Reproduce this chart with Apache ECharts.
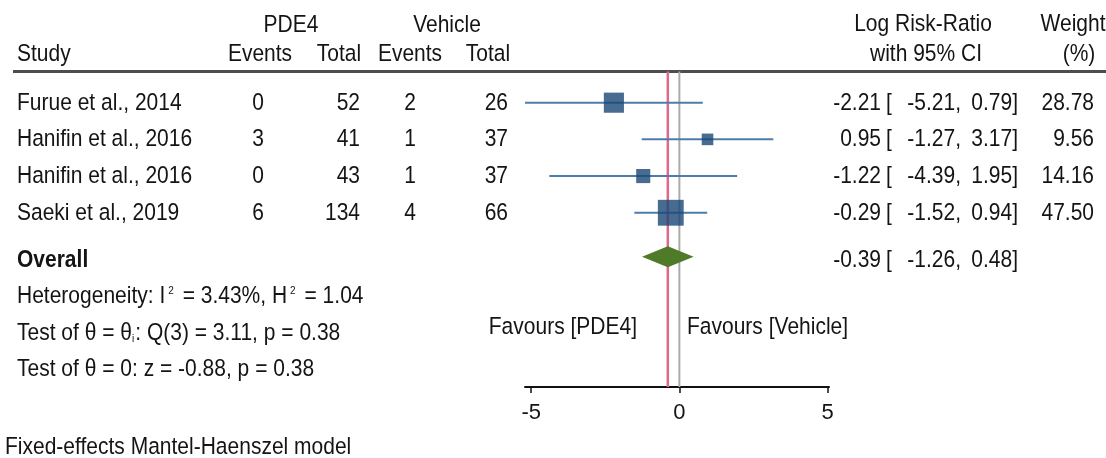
<!DOCTYPE html>
<html><head><meta charset="utf-8">
<script src="https://cdn.jsdelivr.net/npm/echarts@6/dist/echarts.min.js"></script>
<style>html,body{margin:0;padding:0;background:#fff}#c{width:1106px;height:458px}</style>
</head><body><div id="c"></div>
<script>
// ---- data ----
const studies = ['Furue et al., 2014', 'Hanifin et al., 2016', 'Hanifin et al., 2016', 'Saeki et al., 2019'];
const pdeEvents = [0, 3, 0, 6];
const pdeTotal = [52, 41, 43, 134];
const vehEvents = [2, 1, 1, 4];
const vehTotal = [26, 37, 37, 66];
const estimate = [-2.21, 0.95, -1.22, -0.29];
const ciLow = [-5.21, -1.27, -4.39, -1.52];
const ciHigh = [0.79, 3.17, 1.95, 0.94];
const weight = [28.78, 9.56, 14.16, 47.50];
const overallEst = -0.39;
const overallLow = -1.26;
const overallHigh = 0.48;
const xTicks = [-5, 0, 5];
const headerGroups = ['PDE4', 'Vehicle'];
const headerCols = ['Study', 'Events', 'Total', 'Events', 'Total'];
const statsLines = [
  'Heterogeneity: I{sup|2} = 3.43%, H{sup|2} = 1.04',
  'Test of θ = θ{sub|i}: Q(3) = 3.11, p = 0.38',
  'Test of θ = 0: z = -0.88, p = 0.38'
];
const favours = ['Favours [PDE4]', 'Favours [Vehicle]'];
const note = 'Fixed-effects Mantel-Haenszel model';

// ---- layout ----
const FONT = '"Liberation Sans", Arial, sans-serif';
const FS = 21;
const SY = 1.1;
const INK = '#141414';
const rowPos = studies.map((_, i) => i + 1);
const overallPos = 5.2;
const lineTop = 0.15, lineBottom = 8.75;

const chart = echarts.init(document.getElementById('c'), null, {renderer: 'canvas'});

const option = {
  animation: false,
  backgroundColor: '#fff',
  grid: {left: 525, right: 277, top: 66, height: 321, containLabel: false},
  xAxis: {
    type: 'value', min: -5.21, max: 5.05, position: 'bottom',
    axisLine: {show: true, onZero: false, lineStyle: {color: '#111', width: 2}},
    axisTick: {show: true, customValues: xTicks, length: 6, lineStyle: {color: '#111', width: 1.5}},
    axisLabel: {customValues: xTicks, fontSize: 22, color: INK, margin: 15, fontFamily: FONT},
    splitLine: {show: false}
  },
  yAxis: {type: 'value', inverse: true, min: 0, max: lineBottom, show: false},
  series: [
    { // reference lines (overall estimate and no effect)
      type: 'custom', z: 1, silent: true,
      data: [[overallEst], [0]],
      renderItem: function (params, api) {
        const a = api.coord([api.value(0), lineTop]);
        const b = api.coord([api.value(0), lineBottom]);
        const isOverall = params.dataIndex === 0;
        return {type: 'line', shape: {x1: a[0], y1: a[1], x2: b[0], y2: b[1]},
          style: {stroke: isOverall ? '#e0698b' : '#ababab', lineWidth: isOverall ? 2.5 : 2}};
      }
    },
    { // confidence intervals
      type: 'custom', z: 2, silent: true,
      data: studies.map((_, i) => [ciLow[i], ciHigh[i], rowPos[i]]),
      renderItem: function (params, api) {
        const a = api.coord([api.value(0), api.value(2)]);
        const b = api.coord([api.value(1), api.value(2)]);
        return {type: 'line', shape: {x1: a[0], y1: a[1], x2: b[0], y2: b[1]},
          style: {stroke: '#4f7dab', lineWidth: 2}};
      }
    },
    { // study estimates
      type: 'scatter', z: 3, silent: true, symbol: 'rect',
      symbolSize: function (val) { return 3.75 * Math.sqrt(val[2]); },
      itemStyle: {color: '#1a4676'},
      data: studies.map((_, i) => [estimate[i], rowPos[i], weight[i]])
    },
    { // overall diamond
      type: 'custom', z: 4, silent: true,
      data: [[overallLow, overallEst, overallHigh, overallPos]],
      renderItem: function (params, api) {
        const l = api.coord([api.value(0), api.value(3)]);
        const c = api.coord([api.value(1), api.value(3)]);
        const r = api.coord([api.value(2), api.value(3)]);
        const h = 10.5;
        return {type: 'polygon', shape: {points: [[l[0], l[1]], [c[0], c[1] - h], [r[0], r[1]], [c[0], c[1] + h]]},
          style: {fill: '#4f7a28'}};
      }
    }
  ]
};
chart.setOption(option);

function py(p) { return chart.convertToPixel({gridIndex: 0}, [0, p])[1]; }
function txt(text, x, y, align, extra) {
  return {type: 'text', x: x, y: y, scaleY: SY, silent: true, z: 10,
    style: Object.assign({text: String(text), font: FS + 'px ' + FONT, fill: INK, align: align, verticalAlign: 'middle'}, extra || {})};
}
const f2 = v => v.toFixed(2);

const g = [];
// headers
g.push(txt(headerGroups[0], 291, 26, 'center'));
g.push(txt(headerGroups[1], 447, 26, 'center'));
g.push(txt(headerCols[0], 17, 55, 'left'));
g.push(txt(headerCols[1], 260, 55, 'center'));
g.push(txt(headerCols[2], 339, 55, 'center'));
g.push(txt(headerCols[3], 410, 55, 'center'));
g.push(txt(headerCols[4], 488, 55, 'center'));
g.push(txt('Log Risk-Ratio', 923, 25, 'center'));
g.push(txt('with 95% CI', 926, 55, 'center'));
g.push(txt('Weight', 1073, 25, 'center'));
g.push(txt('(%)', 1079, 55, 'center'));
g.push({type: 'line', silent: true, shape: {x1: 13, y1: 71.5, x2: 1106, y2: 71.5}, style: {stroke: '#4d4d4d', lineWidth: 3}});

// study rows
studies.forEach((s, i) => {
  const y = py(rowPos[i]) + 0.5;
  g.push(txt(s, 17, y, 'left'));
  g.push(txt(pdeEvents[i], 258, y, 'center'));
  g.push(txt(pdeTotal[i], 360, y, 'right'));
  g.push(txt(vehEvents[i], 410, y, 'center'));
  g.push(txt(vehTotal[i], 508, y, 'right'));
  g.push(txt(f2(estimate[i]), 881, y, 'right'));
  g.push(txt('[', 886, y, 'left'));
  g.push(txt(f2(ciLow[i]) + ',', 961, y, 'right'));
  g.push(txt(f2(ciHigh[i]) + ']', 1018, y, 'right'));
  g.push(txt(f2(weight[i]), 1094, y, 'right'));
});

// overall row
const oy = py(overallPos) + 3.5;
g.push(txt('Overall', 17, oy, 'left', {font: 'bold ' + FS + 'px ' + FONT}));
g.push(txt(f2(overallEst), 881, oy, 'right'));
g.push(txt('[', 886, oy, 'left'));
g.push(txt(f2(overallLow) + ',', 961, oy, 'right'));
g.push(txt(f2(overallHigh) + ']', 1018, oy, 'right'));

// statistics
const richStyles = {
  sup: {fontSize: 10, fontFamily: FONT, verticalAlign: 'top', padding: [0, 3, 9, 3], fill: INK},
  sub: {fontSize: 10, fontFamily: FONT, verticalAlign: 'bottom', padding: [7, 1, 0, 0], fill: INK}
};
[296.7, 333.3, 370].forEach((y, i) => {
  g.push(txt(statsLines[i], 17, y, 'left', {rich: richStyles}));
});
g.push(txt(favours[0], 637, 328, 'right'));
g.push(txt(favours[1], 687, 328, 'left'));
g.push(txt(note, 5, 448, 'left'));

chart.setOption({graphic: {elements: g}});
</script>
</body></html>
